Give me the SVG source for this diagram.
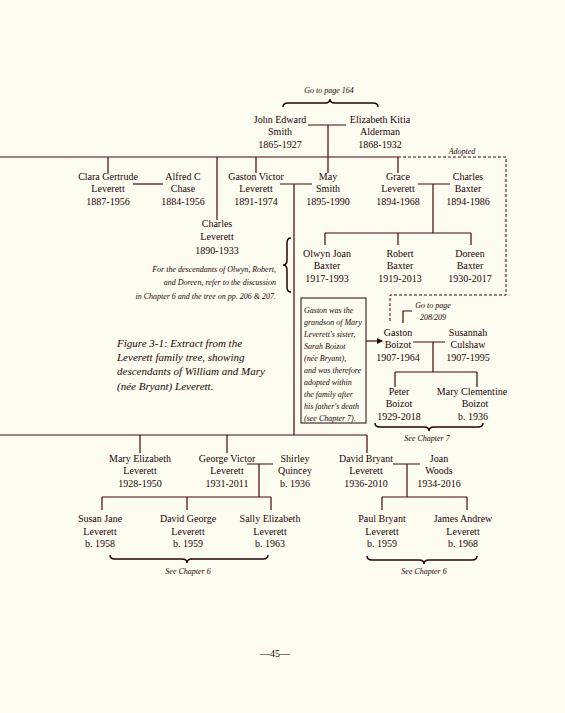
<svg xmlns="http://www.w3.org/2000/svg" width="565" height="713" viewBox="0 0 565 713">
<defs>
<style>
.n{font-family:"Liberation Serif",serif;font-size:10px;fill:#220404;text-anchor:middle}
.i{font-family:"Liberation Serif",serif;font-style:italic;font-size:8px;fill:#220404}
.c{font-family:"Liberation Serif",serif;font-style:italic;font-size:11px;fill:#220404}
.l{stroke:#4a0606;stroke-width:1.2;fill:none}
.d{stroke:#4a0606;stroke-width:1;fill:none;stroke-dasharray:3 2}
.b{stroke:#220404;stroke-width:1.5;fill:none}
</style>
<marker id="ah" markerWidth="6" markerHeight="6" refX="5" refY="3" orient="auto" markerUnits="userSpaceOnUse">
<path d="M0,0 L6,3 L0,6 Z" fill="#220404"/>
</marker>
</defs>
<rect width="565" height="713" fill="#fdfcf1"/>

<g id="connectors">
<path class="l" d="M308,125 H346 M328,125 V157"/>
<path class="l" d="M0,157 H398"/>
<path class="l" d="M108,157 V173 M217,157 V220 M256,157 V173 M328,157 V173 M398,157 V173"/>
<path class="d" d="M398,157 H506 V295 H390 V323"/>
<path class="l" d="M133,184 H163"/>
<path class="l" d="M280,184 H312 M294,184 V435"/>
<path class="l" d="M418,184 H450 M433,184 V233 M325,233 H471 M325,233 V245 M398,233 V245 M471,233 V245"/>
<path class="l" d="M403,323 V311 H412"/>
<path class="l" d="M413,342 H445 M433,342 V372 M395,372 H477 M395,372 V387 M477,372 V387"/>
<path class="l" d="M366,341 H382" marker-end="url(#ah)"/>
<path class="l" d="M0,435 H367 M140,435 V453 M227,435 V453 M367,435 V453"/>
<path class="l" d="M247,464 H273 M259,464 V497 M102,497 H271 M102,497 V510 M187,497 V510 M271,497 V510"/>
<path class="l" d="M393,464 H420 M407,464 V497 M382,497 H467 M382,497 V510 M467,497 V510"/>
</g>

<g id="braces">
<path class="b" d="M283,107 Q283,103 288,103 L325,103 Q330,103 330,99 Q330,103 335,103 L373,103 Q378,103 378,107"/>
<path class="b" d="M291,238 Q287,238 287,243 L287,260 Q287,265 283,265 Q287,265 287,270 L287,287 Q287,292 291,292"/>
<path class="b" d="M375,423 Q375,427 380,427 L424,427 Q429,427 429,431 Q429,427 434,427 L478,427 Q483,427 483,423"/>
<path class="b" d="M110,555 Q110,559 115,559 L182,559 Q187,559 187,563 Q187,559 192,559 L263,559 Q268,559 268,555"/>
<path class="b" d="M367,556 Q367,560 372,560 L419,560 Q424,560 424,564 Q424,560 429,560 L472,560 Q477,560 477,556"/>
</g>

<g id="labels">
<text class="i" x="329" y="93" text-anchor="middle">Go to page 164</text>
<text class="i" x="462" y="154" text-anchor="middle">Adopted</text>
<text class="i" x="433" y="308" text-anchor="middle">Go to page</text>
<text class="i" x="433" y="320" text-anchor="middle">208/209</text>
<text class="i" x="427" y="441" text-anchor="middle">See Chapter 7</text>
<text class="i" x="188" y="574" text-anchor="middle">See Chapter 6</text>
<text class="i" x="424" y="574" text-anchor="middle">See Chapter 6</text>
<text class="i" text-anchor="end"><tspan x="276" y="272">For the descendants of Olwyn, Robert,</tspan><tspan x="276" y="285">and Doreen, refer to the discussion</tspan><tspan x="276" y="299">in Chapter 6 and the tree on pp. 206 &amp; 207.</tspan></text>
<text class="c"><tspan x="117" y="347">Figure 3-1: Extract from the</tspan><tspan x="117" y="361">Leverett family tree, showing</tspan><tspan x="117" y="375">descendants of William and Mary</tspan><tspan x="117" y="390">(née Bryant) Leverett.</tspan></text>
<text class="n" x="275" y="657">—45—</text>
</g>

<g id="note-box">
<rect x="301" y="298" width="65" height="125" fill="none" stroke="#220404" stroke-width="1"/>
<text class="i"><tspan x="304" y="313">Gaston was the</tspan><tspan x="304" y="325">grandson of Mary</tspan><tspan x="304" y="337">Leverett's sister,</tspan><tspan x="304" y="349">Sarah Boizot</tspan><tspan x="304" y="361">(née Bryant),</tspan><tspan x="304" y="373">and was therefore</tspan><tspan x="304" y="385">adopted within</tspan><tspan x="304" y="397">the family after</tspan><tspan x="304" y="409">his father's death</tspan><tspan x="304" y="421">(see Chapter 7).</tspan></text>
</g>

<g id="john-smith"><text class="n"><tspan x="280" y="123">John Edward</tspan><tspan x="280" y="135">Smith</tspan><tspan x="280" y="148">1865-1927</tspan></text></g>
<g id="elizabeth-alderman"><text class="n"><tspan x="380" y="123">Elizabeth Kitia</tspan><tspan x="380" y="135">Alderman</tspan><tspan x="380" y="148">1868-1932</tspan></text></g>

<g id="clara-leverett"><text class="n"><tspan x="108" y="180">Clara Gertrude</tspan><tspan x="108" y="192">Leverett</tspan><tspan x="108" y="205">1887-1956</tspan></text></g>
<g id="alfred-chase"><text class="n"><tspan x="183" y="180">Alfred C</tspan><tspan x="183" y="192">Chase</tspan><tspan x="183" y="205">1884-1956</tspan></text></g>
<g id="gaston-leverett"><text class="n"><tspan x="256" y="180">Gaston Victor</tspan><tspan x="256" y="192">Leverett</tspan><tspan x="256" y="205">1891-1974</tspan></text></g>
<g id="may-smith"><text class="n"><tspan x="328" y="180">May</tspan><tspan x="328" y="192">Smith</tspan><tspan x="328" y="205">1895-1990</tspan></text></g>
<g id="grace-leverett"><text class="n"><tspan x="398" y="180">Grace</tspan><tspan x="398" y="192">Leverett</tspan><tspan x="398" y="205">1894-1968</tspan></text></g>
<g id="charles-baxter"><text class="n"><tspan x="468" y="180">Charles</tspan><tspan x="468" y="192">Baxter</tspan><tspan x="468" y="205">1894-1986</tspan></text></g>
<g id="charles-leverett"><text class="n"><tspan x="217" y="227">Charles</tspan><tspan x="217" y="240">Leverett</tspan><tspan x="217" y="254">1890-1933</tspan></text></g>

<g id="olwyn-baxter"><text class="n"><tspan x="327" y="257">Olwyn Joan</tspan><tspan x="327" y="269">Baxter</tspan><tspan x="327" y="282">1917-1993</tspan></text></g>
<g id="robert-baxter"><text class="n"><tspan x="400" y="257">Robert</tspan><tspan x="400" y="269">Baxter</tspan><tspan x="400" y="282">1919-2013</tspan></text></g>
<g id="doreen-baxter"><text class="n"><tspan x="470" y="257">Doreen</tspan><tspan x="470" y="269">Baxter</tspan><tspan x="470" y="282">1930-2017</tspan></text></g>

<g id="gaston-boizot"><text class="n"><tspan x="398" y="336">Gaston</tspan><tspan x="398" y="348">Boizot</tspan><tspan x="398" y="361">1907-1964</tspan></text></g>
<g id="susannah-culshaw"><text class="n"><tspan x="468" y="336">Susannah</tspan><tspan x="468" y="348">Culshaw</tspan><tspan x="468" y="361">1907-1995</tspan></text></g>
<g id="peter-boizot"><text class="n"><tspan x="399" y="395">Peter</tspan><tspan x="399" y="407">Boizot</tspan><tspan x="399" y="420">1929-2018</tspan></text></g>
<g id="mary-boizot"><text class="n"><tspan x="472" y="395">Mary Clementine</tspan><tspan x="475" y="407">Boizot</tspan><tspan x="473" y="420">b. 1936</tspan></text></g>

<g id="mary-leverett"><text class="n"><tspan x="140" y="462">Mary Elizabeth</tspan><tspan x="140" y="474">Leverett</tspan><tspan x="140" y="487">1928-1950</tspan></text></g>
<g id="george-leverett"><text class="n"><tspan x="227" y="462">George Victor</tspan><tspan x="227" y="474">Leverett</tspan><tspan x="227" y="487">1931-2011</tspan></text></g>
<g id="shirley-quincey"><text class="n"><tspan x="295" y="462">Shirley</tspan><tspan x="295" y="474">Quincey</tspan><tspan x="295" y="487">b. 1936</tspan></text></g>
<g id="david-leverett"><text class="n"><tspan x="366" y="462">David Bryant</tspan><tspan x="366" y="474">Leverett</tspan><tspan x="366" y="487">1936-2010</tspan></text></g>
<g id="joan-woods"><text class="n"><tspan x="439" y="462">Joan</tspan><tspan x="439" y="474">Woods</tspan><tspan x="439" y="487">1934-2016</tspan></text></g>

<g id="susan-leverett"><text class="n"><tspan x="100" y="522">Susan Jane</tspan><tspan x="100" y="535">Leverett</tspan><tspan x="100" y="547">b. 1958</tspan></text></g>
<g id="davidgeorge-leverett"><text class="n"><tspan x="188" y="522">David George</tspan><tspan x="188" y="535">Leverett</tspan><tspan x="188" y="547">b. 1959</tspan></text></g>
<g id="sally-leverett"><text class="n"><tspan x="270" y="522">Sally Elizabeth</tspan><tspan x="270" y="535">Leverett</tspan><tspan x="270" y="547">b. 1963</tspan></text></g>
<g id="paul-leverett"><text class="n"><tspan x="382" y="522">Paul Bryant</tspan><tspan x="382" y="535">Leverett</tspan><tspan x="382" y="547">b. 1959</tspan></text></g>
<g id="james-leverett"><text class="n"><tspan x="463" y="522">James Andrew</tspan><tspan x="463" y="535">Leverett</tspan><tspan x="463" y="547">b. 1968</tspan></text></g>
</svg>
